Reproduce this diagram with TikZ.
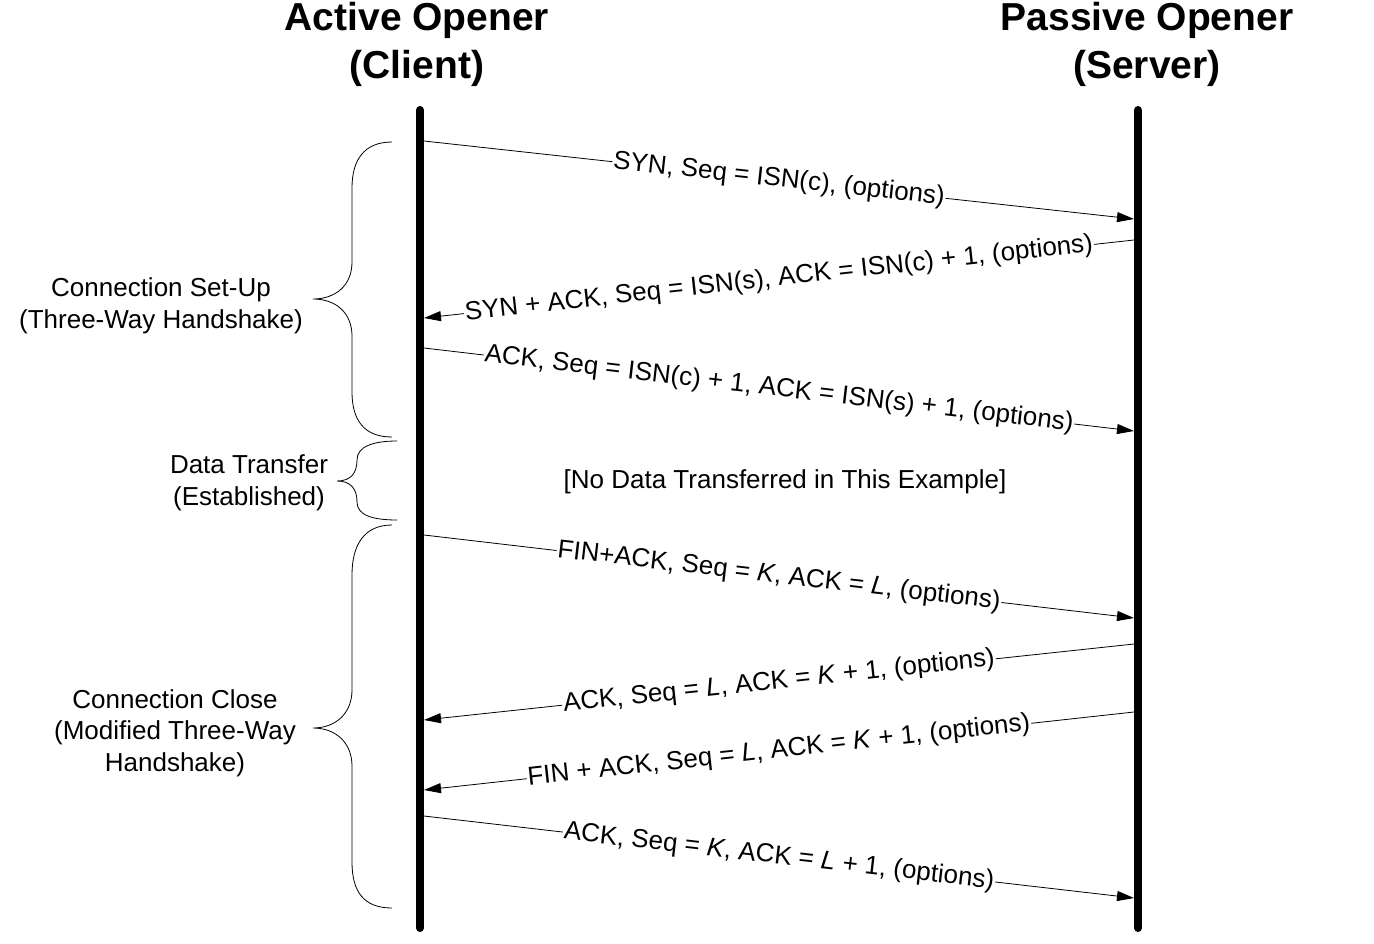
\documentclass[tikz,border=0pt]{standalone}
\usepackage{fontspec}
\setmainfont{Liberation Sans}
\usetikzlibrary{arrows.meta}
\newcommand{\vK}{\textit{K}}
\newcommand{\vL}{\textit{L}}
\begin{document}
\begin{tikzpicture}[x=1pt,y=-1pt,
  lifeline/.style={line width=8pt,line cap=round},
  msg/.style={line width=0.8pt,-{Triangle[length=17pt,width=10pt]}},
  lbl/.style={pos=0.5,sloped,fill=white,inner xsep=1pt,inner ysep=0pt,font=\fontsize{26}{30}\selectfont},
  title/.style={font=\fontsize{39}{48}\selectfont\bfseries,align=center},
  side/.style={font=\fontsize{26}{31.5}\selectfont,align=center},
  brace/.style={line width=0.8pt}]
\useasboundingbox (0,0) rectangle (1374,943);
% titles
\node[title] (tc) at (417,44) {Active Opener\\(Client)};
\node[title] (ts) at (1147,44) {Passive Opener\\(Server)};
% lifelines
\coordinate (ctop) at (420,110);
\coordinate (cbot) at (420,928);
\coordinate (stop) at (1138,110);
\coordinate (sbot) at (1138,928);
\draw[lifeline] (ctop) -- (cbot);
\draw[lifeline] (stop) -- (sbot);
% endpoints
\coordinate (c1) at (424,141);  \coordinate (s1) at (1134,219);
\coordinate (s2) at (1134,240); \coordinate (c2) at (424,318);
\coordinate (c3) at (424,348);  \coordinate (s3) at (1134,431);
\coordinate (c5) at (424,535);  \coordinate (s5) at (1134,618);
\coordinate (s6) at (1134,644); \coordinate (c6) at (424,720);
\coordinate (s7) at (1134,712); \coordinate (c7) at (424,790);
\coordinate (c8) at (424,816);  \coordinate (s8) at (1134,898);
% messages
\draw[msg] (c1) -- node[lbl] (m1) {SYN, Seq = ISN(c), (options)} (s1);
\draw[msg] (s2) -- node[lbl] (m2) {SYN + ACK, Seq = ISN(s), ACK = ISN(c) + 1, (options)} (c2);
\draw[msg] (c3) -- node[lbl] (m3) {ACK, Seq = ISN(c) + 1, ACK = ISN(s) + 1, (options)} (s3);
\node[side] (nodata) at (785,482) {[No Data Transferred in This Example]};
\draw[msg] (c5) -- node[lbl] (m5) {FIN+ACK, Seq = \vK, ACK = \vL, (options)} (s5);
\draw[msg] (s6) -- node[lbl] (m6) {ACK, Seq = \vL, ACK = \vK{} + 1, (options)} (c6);
\draw[msg] (s7) -- node[lbl] (m7) {FIN + ACK, Seq = \vL, ACK = \vK{} + 1, (options)} (c7);
\draw[msg] (c8) -- node[lbl] (m8) {ACK, Seq = \vK, ACK = \vL{} + 1, (options)} (s8);
% braces
\draw[brace] (392,142) .. controls (364,142) and (352,160) .. (352,188)
  -- (352,262) .. controls (352,285) and (336,299) .. (313,299)
  .. controls (336,299) and (352,313) .. (352,336)
  -- (352,392) .. controls (352,420) and (364,437) .. (392,437);
\draw[brace] (397,441) .. controls (372,441) and (357,447) .. (357,460)
  .. controls (357,473) and (351,481) .. (337,481)
  .. controls (351,481) and (357,489) .. (357,502)
  .. controls (357,515) and (372,520) .. (397,520);
\draw[brace] (392,525) .. controls (364,525) and (352,545) .. (352,575)
  -- (352,690) .. controls (352,713) and (336,728) .. (313,728)
  .. controls (336,728) and (352,743) .. (352,766)
  -- (352,862) .. controls (352,892) and (364,908) .. (392,908);
% side labels
\node[side] (setup) at (161,306) {Connection Set-Up\\(Three-Way Handshake)};
\node[side] (data) at (249,483) {Data Transfer\\(Established)};
\node[side] (close) at (175,733) {Connection Close\\(Modified Three-Way\\Handshake)};
\end{tikzpicture}
\end{document}
